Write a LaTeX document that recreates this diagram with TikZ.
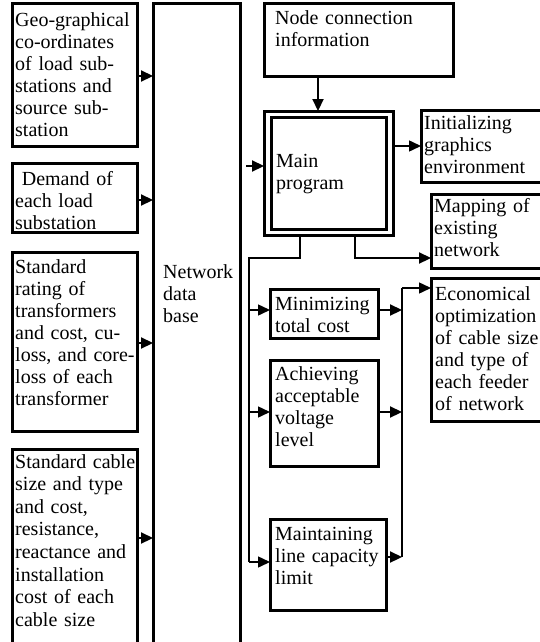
\documentclass[tikz,border=0pt]{standalone}
\usepackage{fontspec}
\setmainfont{Liberation Serif}
\usetikzlibrary{arrows.meta,calc}
\begin{document}
\begin{tikzpicture}[x=1pt,y=-1pt,
  box/.style={draw, line width=3pt, inner sep=0pt, outer sep=0pt},
  txt/.style={inner sep=0pt, anchor=base west, align=left, text width=150pt,
    font=\fontsize{20}{22}\selectfont},
  line/.style={line width=2pt},
  thin/.style={line width=1.5pt},
  arr/.style={line width=2.2pt, -{Triangle[length=12pt,width=11pt]}},
  tarr/.style={line width=1.5pt, -{Triangle[length=12pt,width=11pt]}}]
\useasboundingbox (0,0) rectangle (539,642);
% left boxes
\node[box, minimum width=125pt, minimum height=142pt] (b1) at (74.5,75) {};
\node[box, minimum width=125pt, minimum height=69pt] (b2) at (74.5,197.5) {};
\node[box, minimum width=125pt, minimum height=179pt] (b3) at (74.5,341.5) {};
\node[box, minimum width=125pt, minimum height=211pt] (b4) at (74.5,554.5) {};
\node[txt] (t1) at (15,27) {Geo-graphical\\co-ordinates\\of load sub-\\stations and\\source sub-\\station};
\node[txt] (t2) at (15,185) {\ Demand of\\each load\\substation};
\node[txt] (t3) at (15,273) {Standard\\rating of\\transformers\\and cost, cu-\\loss, and core-\\loss of each\\transformer};
\node[txt, font=\fontsize{20}{22.6}\selectfont] (t4) at (15,468) {Standard cable\\size and type\\and cost,\\resistance,\\reactance and\\installation\\cost of each\\cable size};
% network data base
\node[box, minimum width=87pt, minimum height=660pt] (nd) at (196.5,334) {};
\node[txt] (tnd) at (163,278) {Network\\data\\base};
% node connection information
\node[box, minimum width=189pt, minimum height=72pt] (nci) at (358.5,40) {};
\node[txt, text width=185pt] (tnci) at (275,25) {Node connection\\information};
% main program
\node[box, minimum width=129pt, minimum height=124pt] (main) at (328.5,173) {};
\node[box, minimum width=115pt, minimum height=112pt] (maini) at (328.5,173) {};
\node[txt] (tmain) at (276,167) {Main\\program};
% right boxes
\node[box, minimum width=124pt, minimum height=72pt] (init) at (483,146) {};
\node[txt] (tinit) at (424,129) {Initializing\\graphics\\environment};
\node[box, minimum width=116pt, minimum height=74pt] (map) at (489,231) {};
\node[txt] (tmap) at (434,212) {Mapping of\\existing\\network};
\node[box, minimum width=116pt, minimum height=143pt] (econ) at (489,349.5) {};
\node[txt] (tecon) at (435,300) {Economical\\optimization\\of cable size\\and type of\\each feeder\\of network};
% middle boxes
\node[box, minimum width=108pt, minimum height=49pt] (min) at (324,313.5) {};
\node[txt] (tmin) at (275,310) {Minimizing\\total cost};
\node[box, minimum width=108pt, minimum height=106pt] (ach) at (324,413) {};
\node[txt] (tach) at (275,380) {Achieving\\acceptable\\voltage\\level};
\node[box, minimum width=116pt, minimum height=91pt] (mnt) at (328,564.5) {};
\node[txt] (tmnt) at (275,540) {Maintaining\\line capacity\\limit};
% helper coordinates
\coordinate (y4) at (0,538);
\coordinate (yn) at (0,166);
\coordinate (xd) at (318,0);
\coordinate (yi) at (0,146);
\coordinate (m1) at (355,258);
\coordinate (m2) at (300,258);
\coordinate (bt) at (249,258);
\coordinate (bb) at (249,562);
\coordinate (bm) at (249,310);
\coordinate (ba) at (249,412);
\coordinate (ct) at (402,288);
\coordinate (cm) at (402,310);
\coordinate (ca) at (402,412);
\coordinate (cb) at (402,557);
% connectors from inputs
\draw[arr] (b1.east |- 0,76) -- (nd.west |- 0,76);
\draw[arr] (b2.east |- 0,200) -- (nd.west |- 0,200);
\draw[arr] (b3.east |- 0,343) -- (nd.west |- 0,343);
\draw[arr] (b4.east |- y4) -- (nd.west |- y4);
\draw[arr, shorten <=6pt] (nd.east |- yn) -- (main.west |- yn);
\draw[arr] (nci.south -| xd) -- (main.north -| xd);
\draw[tarr] (main.east |- yi) -- (init.west |- yi);
\draw[arr] (main.south -| m1) -- (m1) -- (map.west |- m1);
\draw[thin] (main.south -| m2) -- (m2) -- (bt) -- (bb);
\draw[tarr] (bm) -- (min.west |- bm);
\draw[tarr] (ba) -- (ach.west |- ba);
\draw[tarr] (bb) -- (mnt.west |- bb);
\draw[thin] (cb) -- (ct);
\draw[tarr] (ct) -- (econ.west |- ct);
\draw[arr] (min.east |- cm) -- (cm);
\draw[arr] (ach.east |- ca) -- (ca);
\draw[arr] (mnt.east |- cb) -- (cb);
\end{tikzpicture}
\end{document}
